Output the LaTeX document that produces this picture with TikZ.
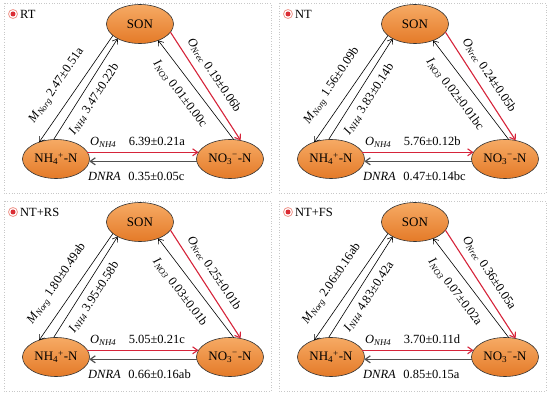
\documentclass[tikz,border=0pt]{standalone}
\usepackage{fontspec}
\setmainfont{Liberation Serif}
\usetikzlibrary{arrows.meta,shapes.geometric}
\definecolor{orgA}{RGB}{246,170,100}
\definecolor{orgB}{RGB}{228,122,40}
\definecolor{arrred}{RGB}{214,36,58}
\definecolor{dnragray}{RGB}{80,80,80}
\definecolor{framegray}{RGB}{200,200,200}
\definecolor{ringred}{RGB}{240,150,140}
\tikzset{
  pool/.style={ellipse, draw=black!80, line width=0.6pt, top color=orgA, bottom color=orgB,
    minimum width=67pt, minimum height=39pt, inner sep=0pt, outer sep=0pt,
    font=\fontsize{13}{15}\selectfont},
  thinarr/.style={draw=black, line width=0.6pt, -{Straight Barb[length=4.5pt,width=6.5pt]}},
  redarr/.style={draw=arrred, line width=1.1pt, -{Straight Barb[length=5pt,width=7pt]}},
  grayarr/.style={draw=dnragray, line width=1.2pt, -{Straight Barb[length=5pt,width=7pt]}},
  lab/.style={font=\fontsize{12.5}{14}\selectfont, inner sep=0pt},
  panelframe/.style={draw=framegray, dotted, line width=0.6pt},
  ttl/.style={font=\fontsize{12.5}{14}\selectfont, inner sep=0pt, anchor=west},
  ring/.style={circle, draw=ringred, line width=0.8pt, fill=white, minimum size=9pt, inner sep=0pt},
  dotmark/.style={circle, fill=arrred!90!orange, minimum size=5pt, inner sep=0pt},
}
\begin{document}
\begin{tikzpicture}[x=1pt,y=-1pt]
\useasboundingbox (0,0) rectangle (550,396);
\foreach \ox/\oy/\ttl/\vm/\vi/\vn/\vr/\vo/\vd/\id in {
0/0/RT/2.47±0.51a/3.47±0.22b/0.01±0.00c/0.19±0.06b/6.39±0.21a/0.35±0.05c/a,
275/0/NT/1.56±0.09b/3.83±0.14b/0.02±0.01bc/0.24±0.05b/5.76±0.12b/0.47±0.14bc/b,
0/198/NT+RS/1.80±0.49ab/3.95±0.58b/0.03±0.01b/0.25±0.01b/5.05±0.21c/0.66±0.16ab/c,
275/198/NT+FS/2.06±0.16ab/4.83±0.42a/0.07±0.02a/0.36±0.05a/3.70±0.11d/0.85±0.15a/d}{
\begin{scope}[shift={(\ox,\oy)}, name prefix=p\id-]
  \draw[panelframe] (4,3) rectangle (271,193);
  \node[ring] (ring) at (13,14) {};
  \node[dotmark] (dot) at (ring) {};
  \node[ttl] (title) at (20,14) {\ttl};
  \node[pool] (son) at (140,24) {SON};
  \node[pool] (nh) at (56,159) {NH\textsubscript{4}\textsuperscript{+}-N};
  \node[pool] (no) at (230,159) {NO\textsubscript{3}\textsuperscript{−}-N};
  \draw[thinarr] (son.203) -- (nh.135);
  \draw[thinarr] (nh.97) -- (son.213);
  \draw[thinarr] (no.79) -- (son.318);
  \draw[redarr] (son.345) -- (no.60);
  \draw[redarr] (nh.12) -- (no.168);
  \draw[grayarr] (no.184) -- (nh.356);
  \node[lab, rotate=56] (lm) at (57,86) {\textit{M}\textsubscript{\textit{Norg}} \vm};
  \node[lab, rotate=57] (li) at (94,99) {\textit{I}\textsubscript{\textit{NH4}} \vi};
  \node[lab, rotate=-53] (ln) at (180,94) {\textit{I}\textsubscript{\textit{NO3}} \vn};
  \node[lab, rotate=-56] (lr) at (214,75) {\textit{O}\textsubscript{\textit{Nrec}} \vr};
  \node[lab, anchor=west] (lo) at (90,142) {\textit{O}\textsubscript{\textit{NH4}}\hspace{1em}\vo};
  \node[lab, anchor=west] (ld) at (88,176) {\textit{DNRA}\hspace{0.6em}\vd};
\end{scope}
}
\end{tikzpicture}
\end{document}
